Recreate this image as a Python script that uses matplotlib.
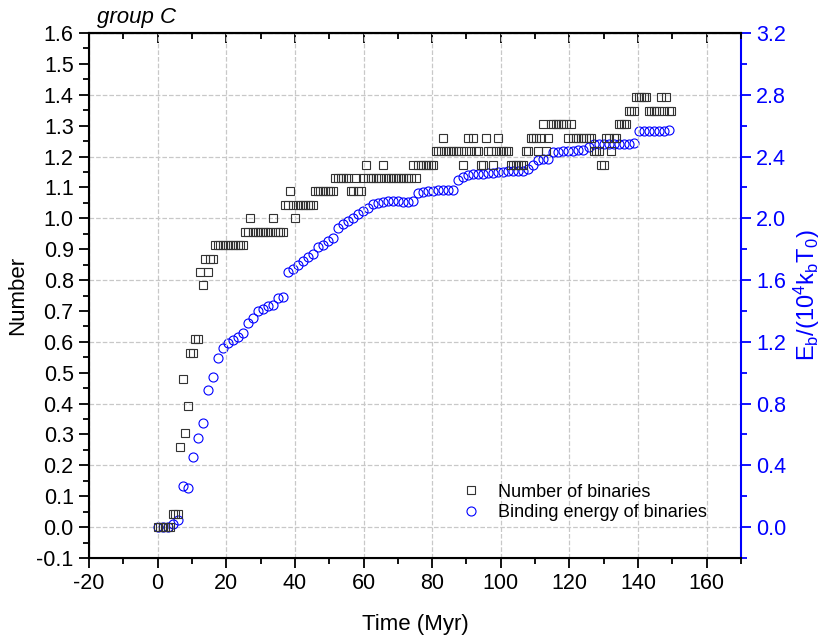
import matplotlib
matplotlib.use('Agg')
import matplotlib.pyplot as plt
from matplotlib.ticker import MultipleLocator, FormatStrFormatter
import numpy as np

# snapshot times (Myr)
t_snap = [
    0.0, 0.73, 1.46, 2.19, 2.92, 3.65, 4.38, 5.11, 5.84, 6.57,
    7.3, 8.03, 8.76, 9.49, 10.22, 10.95, 11.68, 12.41, 13.14, 13.87,
    14.6, 15.33, 16.06, 16.79, 17.52, 18.25, 18.98, 19.71, 20.44, 21.17,
    21.9, 22.63, 23.36, 24.09, 24.82, 25.55, 26.28, 27.01, 27.74, 28.47,
    29.2, 29.93, 30.66, 31.39, 32.12, 32.85, 33.58, 34.31, 35.04, 35.77,
    36.5, 37.23, 37.96, 38.69, 39.42, 40.15, 40.88, 41.61, 42.34, 43.07,
    43.8, 44.53, 45.26, 45.99, 46.72, 47.45, 48.18, 48.91, 49.64, 50.37,
    51.1, 51.83, 52.56, 53.29, 54.02, 54.75, 55.48, 56.21, 56.94, 57.67,
    58.4, 59.13, 59.86, 60.59, 61.32, 62.05, 62.78, 63.51, 64.24, 64.97,
    65.7, 66.43, 67.16, 67.89, 68.62, 69.35, 70.08, 70.81, 71.54, 72.27,
    73.0, 73.73, 74.46, 75.19, 75.92, 76.65, 77.38, 78.11, 78.84, 79.57,
    80.3, 81.03, 81.76, 82.49, 83.22, 83.95, 84.68, 85.41, 86.14, 86.87,
    87.6, 88.33, 89.06, 89.79, 90.52, 91.25, 91.98, 92.71, 93.44, 94.17,
    94.9, 95.63, 96.36, 97.09, 97.82, 98.55, 99.28, 100.01, 100.74, 101.47,
    102.2, 102.93, 103.66, 104.39, 105.12, 105.85, 106.58, 107.31, 108.04, 108.77,
    109.5, 110.23, 110.96, 111.69, 112.42, 113.15, 113.88, 114.61, 115.34, 116.07,
    116.8, 117.53, 118.26, 118.99, 119.72, 120.45, 121.18, 121.91, 122.64, 123.37,
    124.1, 124.83, 125.56, 126.29, 127.02, 127.75, 128.48, 129.21, 129.94, 130.67,
    131.4, 132.13, 132.86, 133.59, 134.32, 135.05, 135.78, 136.51, 137.24, 137.97,
    138.7, 139.43, 140.16, 140.89, 141.62, 142.35, 143.08, 143.81, 144.54, 145.27,
    146.0, 146.73, 147.46, 148.19, 148.92, 149.65,
]

# binaries found in each snapshot (normalised by 23 on the plot)
n_binaries = [
    0, 0, 0, 0, 0, 0, 1, 1, 1, 6,
    11, 7, 9, 13, 13, 14, 14, 19, 18, 20,
    19, 20, 20, 21, 21, 21, 21, 21, 21, 21,
    21, 21, 21, 21, 21, 22, 22, 23, 22, 22,
    22, 22, 22, 22, 22, 22, 23, 22, 22, 22,
    22, 24, 24, 25, 24, 23, 24, 24, 24, 24,
    24, 24, 24, 25, 25, 25, 25, 25, 25, 25,
    25, 26, 26, 26, 26, 26, 26, 25, 25, 26,
    25, 25, 26, 27, 26, 26, 26, 26, 26, 26,
    27, 26, 26, 26, 26, 26, 26, 26, 26, 26,
    26, 26, 27, 26, 27, 27, 27, 27, 27, 27,
    27, 28, 28, 28, 29, 28, 28, 28, 28, 28,
    28, 28, 27, 28, 29, 28, 29, 28, 28, 27,
    27, 29, 28, 28, 27, 28, 29, 28, 28, 28,
    28, 27, 27, 27, 27, 27, 27, 28, 28, 29,
    29, 29, 28, 29, 30, 28, 29, 30, 30, 30,
    30, 30, 30, 30, 29, 30, 29, 29, 29, 29,
    29, 29, 29, 29, 28, 28, 28, 27, 27, 29,
    29, 28, 29, 29, 30, 30, 30, 30, 31, 31,
    31, 32, 32, 32, 32, 32, 31, 31, 31, 31,
    31, 32, 31, 32, 31, 31,
]
n_total = 23

# binding energy, every second snapshot, in 1e4 k_b T_0
e_bind = [
    0.0, 0.0, 0.0, 0.02, 0.045, 0.265, 0.255, 0.455, 0.58, 0.675,
    0.89, 0.975, 1.095, 1.16, 1.19, 1.21, 1.23, 1.26, 1.325, 1.355,
    1.40, 1.415, 1.43, 1.44, 1.485, 1.49, 1.65, 1.67, 1.695, 1.725,
    1.75, 1.77, 1.815, 1.83, 1.85, 1.87, 1.94, 1.96, 1.985, 2.005,
    2.03, 2.045, 2.065, 2.09, 2.10, 2.105, 2.11, 2.115, 2.115, 2.105,
    2.105, 2.11, 2.165, 2.17, 2.175, 2.175, 2.18, 2.18, 2.18, 2.185,
    2.245, 2.265, 2.28, 2.29, 2.29, 2.29, 2.293, 2.293, 2.30, 2.30,
    2.304, 2.305, 2.305, 2.304, 2.32, 2.345, 2.38, 2.385, 2.385, 2.43,
    2.43, 2.434, 2.438, 2.438, 2.442, 2.442, 2.46, 2.48, 2.482, 2.482,
    2.482, 2.482, 2.482, 2.482, 2.482, 2.486, 2.563, 2.568, 2.568, 2.568,
    2.568, 2.568, 2.57,
]

plt.rcParams['font.family'] = ['Liberation Sans', 'DejaVu Sans']
plt.rcParams['mathtext.fontset'] = 'custom'
plt.rcParams['mathtext.rm'] = 'Liberation Sans'
plt.rcParams['mathtext.it'] = 'Liberation Sans:italic'
plt.rcParams['mathtext.default'] = 'regular'
plt.rcParams['axes.unicode_minus'] = False

blue = '#0000ff'

fig = plt.figure(figsize=(8.3, 6.37), dpi=100)
ax = fig.add_axes([89/830, 1 - 558/637, 652/830, 525/637])
ax2 = ax.twinx()
ax.set_zorder(ax2.get_zorder() + 1)
ax.patch.set_visible(False)

l1, = ax.plot(t_snap, np.array(n_binaries) / n_total, ls='none', marker='s', ms=5.5,
              mfc='none', mec='#333333', mew=0.8, label='Number of binaries')
l2, = ax2.plot(t_snap[::2], e_bind, ls='none', marker='o', ms=6.5,
               mfc='none', mec=blue, mew=0.8, label='Binding energy of binaries')

ax.set_xlim(-20, 170)
ax.set_ylim(-0.1, 1.6)
ax2.set_ylim(-0.2, 3.2)

ax.xaxis.set_major_locator(MultipleLocator(20))
ax.xaxis.set_minor_locator(MultipleLocator(10))
ax.yaxis.set_major_locator(MultipleLocator(0.1))
ax.yaxis.set_minor_locator(MultipleLocator(0.05))
ax.yaxis.set_major_formatter(FormatStrFormatter('%.1f'))
ax2.yaxis.set_major_locator(MultipleLocator(0.4))
ax2.yaxis.set_minor_locator(MultipleLocator(0.2))
ax2.yaxis.set_major_formatter(FormatStrFormatter('%.1f'))

ax.tick_params(which='major', direction='out', length=7, width=1.3, labelsize=15.5, pad=4)
ax.tick_params(which='minor', direction='out', length=4, width=1.3)
ax.tick_params(axis='y', right=False)
ax2.tick_params(which='major', direction='out', length=7, width=1.3, labelsize=15.5,
                colors=blue, pad=4)
ax2.tick_params(which='minor', direction='out', length=4, width=1.3, colors=blue)

top = ax.secondary_xaxis('top')
top.xaxis.set_major_locator(MultipleLocator(20))
top.xaxis.set_minor_locator(MultipleLocator(10))
top.tick_params(which='major', direction='in', length=7, width=1.3, labeltop=False)
top.tick_params(which='minor', direction='in', length=4, width=1.3)
top.spines['top'].set_linewidth(1.5)

for s in ['left', 'bottom', 'top']:
    ax.spines[s].set_linewidth(1.5)
ax.spines['right'].set_visible(False)
ax2.spines['right'].set_color(blue)
ax2.spines['right'].set_linewidth(1.5)

ax.grid(axis='x', which='major', color='#c8c8c8', ls='--', lw=0.9)
ax2.grid(axis='y', which='major', color='#c8c8c8', ls='--', lw=0.9)
ax2.set_axisbelow(True)

ax.set_xlabel('Time (Myr)', fontsize=16, labelpad=14)
ax.set_ylabel('Number', fontsize=16, labelpad=6)
ax2.set_ylabel(r'E$_b$/(10$^4$k$_b$T$_0$)', fontsize=17, color=blue, labelpad=4)

ax.text(0.012, 1.019, 'group C', transform=ax.transAxes, fontsize=16,
        style='italic', va='baseline')

ax.legend([l1, l2], [l1.get_label(), l2.get_label()], loc='center left',
          bbox_to_anchor=(0.572, 0.106), frameon=False, fontsize=13,
          handlelength=1, handletextpad=1.0, borderpad=0, borderaxespad=0,
          labelspacing=0.2)

fig.savefig('out.png', dpi=100)
